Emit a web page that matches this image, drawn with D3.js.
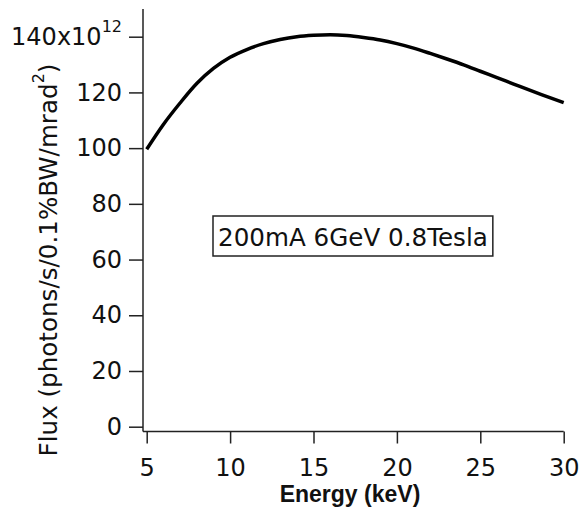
<!DOCTYPE html>
<html>
<head>
<meta charset="utf-8">
<script src="https://cdn.jsdelivr.net/npm/d3@7"></script>
<style>
  body { margin: 0; background: #fff; }
  svg { display: block; }
</style>
</head>
<body>
<div id="chart"></div>
<script>
// flux curve (units of 1e12)
const energy = [5, 6, 7, 8, 9, 10, 11, 12, 13, 14, 15, 16, 17, 18, 19, 20, 21, 22, 23, 24, 25, 26, 27, 28, 29, 30];
const flux = [99.6, 108.5, 116.2, 123.2, 128.6, 132.6, 135.4, 137.5, 139.0, 140.0, 140.5, 140.7, 140.4, 139.7, 138.8, 137.5, 135.9, 134.0, 132.0, 129.9, 127.6, 125.3, 123.0, 120.7, 118.5, 116.3];
const xTicks = [5, 10, 15, 20, 25, 30];
const yTicks = [0, 20, 40, 60, 80, 100, 120, 140];
const note = "200mA 6GeV 0.8Tesla";

const W = 584, H = 509;
const font = "'DejaVu Sans', sans-serif";

const svg = d3.select("#chart").append("svg")
  .attr("width", W)
  .attr("height", H);

const x = d3.scaleLinear().domain([5, 30]).range([146.7, 563.7]);
const y = d3.scaleLinear().domain([0, 140]).range([426.7, 36.7]);

const axisX = 143, axisY = 431.5;

// y axis
const gy = svg.append("g")
  .attr("transform", `translate(${axisX},0)`)
  .call(d3.axisLeft(y).tickValues(yTicks).tickSize(14).tickPadding(7));
gy.select(".domain").remove();
gy.selectAll(".tick line").attr("stroke", "#222").attr("stroke-width", 1.5);
gy.selectAll(".tick text")
  .attr("font-family", font)
  .attr("font-size", 24)
  .attr("fill", "#111");
// top label carries the exponent
gy.selectAll(".tick text").filter(d => d === 140).each(function() {
  const t = d3.select(this).text("");
  t.append("tspan").text("140x10");
  t.append("tspan").attr("font-size", 16).attr("dy", -13).text("12");
});
svg.append("line")
  .attr("x1", axisX).attr("x2", axisX)
  .attr("y1", 9).attr("y2", axisY)
  .attr("stroke", "#222").attr("stroke-width", 1.5);

// x axis
const gx = svg.append("g")
  .attr("transform", `translate(0,${axisY})`)
  .call(d3.axisBottom(x).tickValues(xTicks).tickSize(12).tickPadding(15));
gx.select(".domain").remove();
gx.selectAll(".tick line").attr("stroke", "#222").attr("stroke-width", 1.5);
gx.selectAll(".tick text")
  .attr("font-family", font)
  .attr("font-size", 24)
  .attr("fill", "#111");
svg.append("line")
  .attr("x1", axisX).attr("x2", x(30))
  .attr("y1", axisY).attr("y2", axisY)
  .attr("stroke", "#222").attr("stroke-width", 1.5);

// curve
svg.append("path")
  .datum(energy.map((e, i) => [e, flux[i]]))
  .attr("fill", "none")
  .attr("stroke", "#000")
  .attr("stroke-width", 3.5)
  .attr("d", d3.line()
    .x(d => x(d[0]))
    .y(d => y(d[1]))
    .curve(d3.curveMonotoneX));

// axis titles
svg.append("text")
  .attr("x", 350)
  .attr("y", 502)
  .attr("text-anchor", "middle")
  .attr("font-family", "'Liberation Sans', Arial, sans-serif")
  .attr("font-weight", "bold")
  .attr("font-size", 23)
  .attr("fill", "#111")
  .text("Energy (keV)");

const yt = svg.append("text")
  .attr("transform", "translate(57,260) rotate(-90)")
  .attr("text-anchor", "middle")
  .attr("font-family", font)
  .attr("font-size", 24.6)
  .attr("fill", "#111");
yt.append("tspan").text("Flux (photons/s/0.1%BW/mrad");
yt.append("tspan").attr("font-size", 16).attr("dy", -13).text("2");
yt.append("tspan").attr("dy", 13).text(")");

// annotation box
const ann = svg.append("g");
const at = ann.append("text")
  .attr("x", 218)
  .attr("y", 246)
  .attr("font-family", font)
  .attr("font-size", 24.6)
  .attr("fill", "#111")
  .text(note);
const bb = at.node().getBBox();
ann.insert("rect", "text")
  .attr("x", 213)
  .attr("y", 216)
  .attr("width", bb.x + bb.width + 5 - 213)
  .attr("height", 40)
  .attr("fill", "#fff")
  .attr("stroke", "#222")
  .attr("stroke-width", 1.5);
</script>
</body>
</html>
